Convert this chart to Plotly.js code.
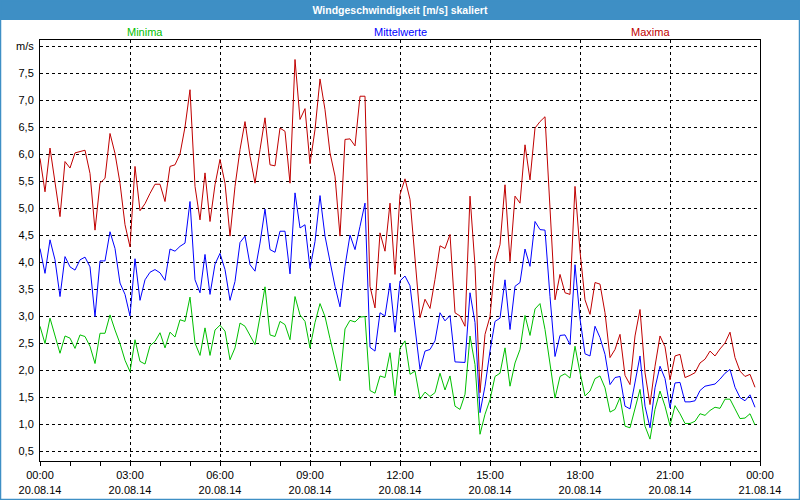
<!DOCTYPE html>
<html>
<head>
<meta charset="utf-8">
<script src="https://cdn.plot.ly/plotly-3.0.1.min.js"></script>
<style>html,body{margin:0;padding:0;background:#fff;}#chart{width:800px;height:500px;}</style>
</head>
<body>
<div id="chart"></div>
<script>
// 10-minute samples, 20.08.14 00:00 .. 23:50
const maxima = [5.92,5.30,6.11,5.50,4.84,5.86,5.74,6.02,6.04,6.07,5.64,4.59,5.46,5.55,6.38,6.01,5.46,4.69,4.28,5.77,
4.95,5.08,5.27,5.44,5.44,5.12,5.77,5.80,6.00,6.50,7.19,5.40,4.78,5.65,4.75,5.43,5.90,5.46,4.48,5.40,
6.08,6.60,5.96,5.46,6.08,6.67,5.80,5.78,6.48,6.42,5.46,7.75,6.64,6.84,5.82,6.45,7.39,6.82,6.02,5.59,
4.48,6.27,6.28,6.15,7.07,7.07,3.55,3.15,4.54,4.20,5.09,3.77,5.25,5.54,5.16,4.05,2.97,3.31,3.14,3.68,
4.30,4.25,4.51,3.06,3.00,2.81,5.22,3.93,1.58,2.66,2.99,4.00,4.32,5.43,4.01,5.22,5.09,6.17,5.52,6.48,
6.60,6.69,4.97,3.30,3.77,3.43,3.40,5.40,4.20,3.30,3.03,3.62,3.59,3.06,2.23,2.38,2.66,1.90,1.73,2.63,
3.12,1.95,1.36,2.07,2.63,2.43,1.82,2.26,2.29,1.86,1.90,1.95,2.13,2.20,2.35,2.26,2.39,2.50,2.70,2.23,
1.98,1.88,1.92,1.68];

const mittelwerte = [4.25,3.79,4.41,4.04,3.36,4.10,3.91,3.85,4.04,4.09,3.91,2.99,4.02,4.02,4.56,4.25,3.61,3.40,3.00,4.06,
3.29,3.67,3.81,3.86,3.80,3.66,4.24,4.20,4.29,4.35,5.12,3.67,3.43,4.14,3.40,3.96,4.16,3.86,3.29,3.64,
4.36,4.48,3.95,3.83,4.35,4.98,4.23,4.18,4.57,4.57,3.78,5.28,4.63,4.69,3.88,4.38,5.23,4.48,4.01,3.55,
3.17,3.92,4.50,4.23,4.66,5.09,2.42,2.35,3.06,3.00,3.61,2.70,3.65,3.74,3.56,2.81,2.01,2.35,2.38,2.54,
3.06,2.91,3.01,2.15,2.15,2.14,3.43,2.88,1.21,1.70,2.35,2.90,2.96,3.67,2.75,3.55,3.62,4.24,3.92,4.75,
4.60,4.59,3.36,2.25,2.64,2.65,2.47,3.95,2.95,2.30,2.26,2.81,2.60,2.29,1.73,1.86,1.88,1.33,1.28,1.77,
2.26,1.33,0.93,1.67,2.07,1.84,1.30,1.76,1.77,1.41,1.41,1.43,1.62,1.70,1.72,1.74,1.83,1.94,2.01,1.68,
1.49,1.43,1.54,1.31];

const minima = [2.81,2.49,2.96,2.62,2.31,2.63,2.59,2.40,2.65,2.62,2.44,2.12,2.68,2.68,3.02,2.74,2.49,2.18,1.97,2.56,
2.16,2.11,2.45,2.53,2.69,2.41,2.70,2.61,2.93,2.90,3.35,2.50,2.27,2.78,2.27,2.74,2.83,2.72,2.19,2.41,
2.87,2.81,2.65,2.47,2.99,3.54,2.65,2.62,2.90,2.84,2.56,3.36,3.02,2.90,2.41,2.88,3.23,2.99,2.58,2.17,
1.80,2.76,2.92,2.89,2.98,2.99,1.62,1.57,1.89,1.86,2.32,1.52,2.40,2.54,1.92,1.98,1.46,1.59,1.51,1.58,
1.94,1.63,1.89,1.33,1.27,1.55,2.63,2.10,0.81,1.18,1.45,1.88,1.94,2.41,1.70,2.13,2.38,3.01,2.64,3.13,
3.23,2.75,2.13,1.48,1.88,1.93,1.85,2.44,1.95,1.52,1.61,1.84,1.89,1.67,1.22,1.27,1.49,0.96,0.93,1.27,
1.64,0.96,0.72,1.27,1.61,1.33,0.97,1.34,1.19,1.01,1.01,1.05,1.19,1.16,1.25,1.31,1.29,1.46,1.46,1.28,
1.10,1.11,1.19,0.98];

const seriesNames = ['Minima','Mittelwerte','Maxima'];
const seriesColors = ['#00c000','#0000ff','#c00000'];

const xTickVals = ['2014-08-20 00:00','2014-08-20 03:00','2014-08-20 06:00','2014-08-20 09:00','2014-08-20 12:00',
  '2014-08-20 15:00','2014-08-20 18:00','2014-08-20 21:00','2014-08-21 00:00'];
const xTickText = ['00:00<br>20.08.14','03:00<br>20.08.14','06:00<br>20.08.14','09:00<br>20.08.14','12:00<br>20.08.14',
  '15:00<br>20.08.14','18:00<br>20.08.14','21:00<br>20.08.14','00:00<br>21.08.14'];
const yTickVals = [0.5,1,1.5,2,2.5,3,3.5,4,4.5,5,5.5,6,6.5,7,7.5,8];
const yTickText = ['0,5','1,0','1,5','2,0','2,5','3,0','3,5','4,0','4,5','5,0','5,5','6,0','6,5','7,0','7,5','m/s'];

// sample timestamps (10 min apart)
const startMs = Date.UTC(2014,7,20,0,0,0);
const times = maxima.map((_, k) => new Date(startMs + k*600000).toISOString().slice(0,16).replace('T',' '));

const FONT = '"Liberation Sans", Arial, sans-serif';
const data = [minima, mittelwerte, maxima].map((vals, s) => ({
  type: 'scatter', mode: 'lines', x: times, y: vals, name: seriesNames[s],
  line: {color: seriesColors[s], width: 1}, hoverinfo: 'skip'
}));

const pw = 720, ph = 421;
const layout = {
  width: 800, height: 500,
  margin: {l: 40, r: 40, t: 40, b: 39, pad: 0},
  paper_bgcolor: '#ffffff', plot_bgcolor: '#ffffff',
  showlegend: false,
  font: {family: FONT, size: 11, color: '#000'},
  title: {text: 'Windgeschwindigkeit [m/s] skaliert', x: 0.5, xanchor: 'center',
          y: 0.98, yref: 'container', yanchor: 'middle',
          font: {family: FONT, size: 10.5, color: '#ffffff', weight: 'bold'}},
  xaxis: {
    type: 'date', range: ['2014-08-20 00:00','2014-08-21 00:00'],
    tickmode: 'array', tickvals: xTickVals, ticktext: xTickText,
    showline: true, linecolor: '#000', linewidth: 1, mirror: true,
    ticks: 'outside', ticklen: 4, tickcolor: '#000', tickwidth: 1,
    showgrid: true, gridcolor: '#000', gridwidth: 1, griddash: '3px,3px',
    zeroline: false, tickangle: 0,
    minor: {dtick: 3600000, ticks: 'outside', ticklen: 4, tickcolor: '#000', showgrid: false},
    tickfont: {family: FONT, size: 11, color: '#000'}
  },
  yaxis: {
    range: [8 - 415/54, 8 + 6/54],
    tickmode: 'array', tickvals: yTickVals, ticktext: yTickText,
    showline: true, linecolor: '#000', linewidth: 1, mirror: true,
    ticks: '', showgrid: true, gridcolor: '#000', gridwidth: 1, griddash: '3px,3px',
    zeroline: false, ticklabelstandoff: 3,
    tickfont: {family: FONT, size: 11, color: '#000'}
  },
  shapes: [
    {type: 'rect', xref: 'paper', yref: 'paper', x0: -40/pw, x1: 1 + 40/pw, y0: 1 + 20/ph, y1: 1 + 40/ph,
     fillcolor: '#3e8fc5', line: {width: 0}, layer: 'below'},
    {type: 'rect', xref: 'paper', yref: 'paper', x0: -39.5/pw, x1: 1 + 39.5/pw, y0: -38.5/ph, y1: 1 + 39.5/ph,
     fillcolor: 'rgba(0,0,0,0)', line: {color: '#3e8fc5', width: 1.5}, layer: 'above'}
  ],
  annotations: [
    {text: seriesNames[0], xref: 'paper', yref: 'paper', x: 0.1454, y: 1 + 8/ph, xanchor: 'center', yanchor: 'middle',
     showarrow: false, font: {family: FONT, size: 11, color: seriesColors[0]}},
    {text: seriesNames[1], xref: 'paper', yref: 'paper', x: 0.5, y: 1 + 8/ph, xanchor: 'center', yanchor: 'middle',
     showarrow: false, font: {family: FONT, size: 11, color: seriesColors[1]}},
    {text: seriesNames[2], xref: 'paper', yref: 'paper', x: 0.848, y: 1 + 8/ph, xanchor: 'center', yanchor: 'middle',
     showarrow: false, font: {family: FONT, size: 11, color: seriesColors[2]}}
  ]
};

Plotly.newPlot('chart', data, layout, {displayModeBar: false, staticPlot: true});
</script>
</body>
</html>
